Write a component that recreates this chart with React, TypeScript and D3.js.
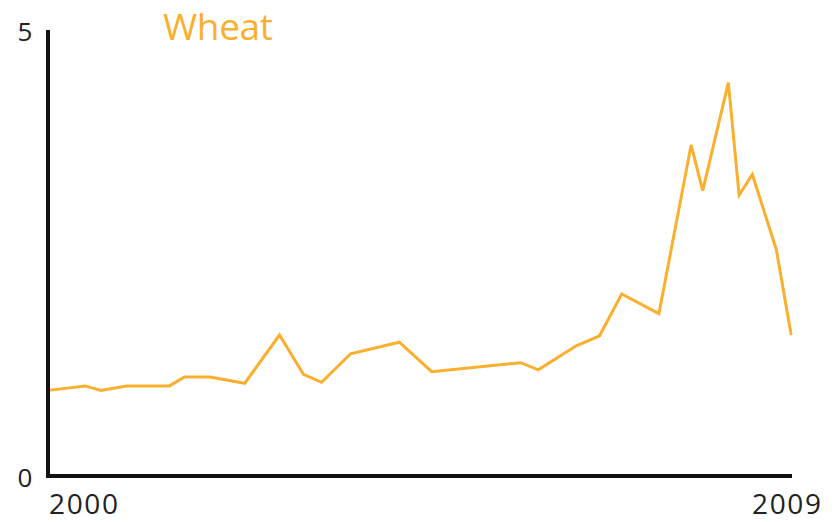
import React, { useEffect, useRef } from 'react';
import * as d3 from 'd3';

// fractional years
const years = [
  2000.0, 2000.45, 2000.64, 2000.95, 2001.47, 2001.65, 2001.96, 2002.38, 2002.8,
  2003.09, 2003.31, 2003.66, 2004.25, 2004.64, 2005.72, 2005.93, 2006.39, 2006.67,
  2006.94, 2007.39, 2007.78, 2007.92, 2008.23, 2008.36, 2008.52, 2008.81, 2008.99,
];
const prices = [
  0.96, 1.01, 0.96, 1.01, 1.01, 1.11, 1.11, 1.04, 1.58,
  1.14, 1.05, 1.37, 1.5, 1.17, 1.27, 1.19, 1.46, 1.57,
  2.04, 1.82, 3.71, 3.2, 4.41, 3.15, 3.38, 2.54, 1.58,
];
const yTicks = [0, 5];
const xTicks = [2000, 2009];
const seriesName = 'Wheat';

const width = 839;
const height = 522;
const margin = { top: 30, right: 47, bottom: 46, left: 48 };
const lineColor = '#fbaf2e';
const font = '"Open Sans", "Noto Sans", sans-serif';

const App: React.FC = () => {
  const svgRef = useRef<SVGSVGElement>(null);

  useEffect(() => {
    if (!svgRef.current) return;
    const svg = d3.select(svgRef.current);
    svg.selectAll('*').remove();

    const x = d3.scaleLinear().domain([2000, 2009]).range([margin.left, width - margin.right]);
    const y = d3.scaleLinear().domain([0, 5]).range([height - margin.bottom, margin.top]);

    const data = years.map((yr, i) => ({ yr, v: prices[i] }));

    // series line
    const line = d3.line<{ yr: number; v: number }>()
      .x(d => x(d.yr))
      .y(d => y(d.v));

    svg.append('path')
      .datum(data)
      .attr('d', line)
      .attr('fill', 'none')
      .attr('stroke', lineColor)
      .attr('stroke-width', 3)
      .attr('stroke-linejoin', 'miter');

    // axes
    svg.append('line')
      .attr('x1', x(2000)).attr('x2', x(2000))
      .attr('y1', y(5)).attr('y2', y(0) + 2)
      .attr('stroke', '#111').attr('stroke-width', 4);
    svg.append('line')
      .attr('x1', x(2000) - 2).attr('x2', x(2009))
      .attr('y1', y(0)).attr('y2', y(0))
      .attr('stroke', '#111').attr('stroke-width', 4);

    svg.selectAll('text.ytick')
      .data(yTicks)
      .enter()
      .append('text')
      .attr('class', 'ytick')
      .attr('x', 25)
      .attr('y', d => y(d) + 11)
      .attr('text-anchor', 'middle')
      .attr('font-family', font)
      .attr('font-size', 26)
      .attr('fill', '#222')
      .text(d => String(d));

    svg.selectAll('text.xtick')
      .data(xTicks)
      .enter()
      .append('text')
      .attr('class', 'xtick')
      .attr('x', d => (d === 2000 ? x(d) + 1 : x(d) - 40))
      .attr('y', 514)
      .attr('font-family', font)
      .attr('font-size', 28)
      .attr('textLength', 69)
      .attr('fill', '#222')
      .text(d => String(d));

    // title
    svg.append('text')
      .attr('x', 163)
      .attr('y', 40)
      .attr('font-family', font)
      .attr('font-size', 37)
      .attr('textLength', 110)
      .attr('fill', lineColor)
      .text(seriesName);
  }, []);

  return (
    <svg
      ref={svgRef}
      width={width}
      height={height}
      style={{ position: 'absolute', left: 0, top: 0, background: '#fff' }}
    />
  );
};

export default App;
